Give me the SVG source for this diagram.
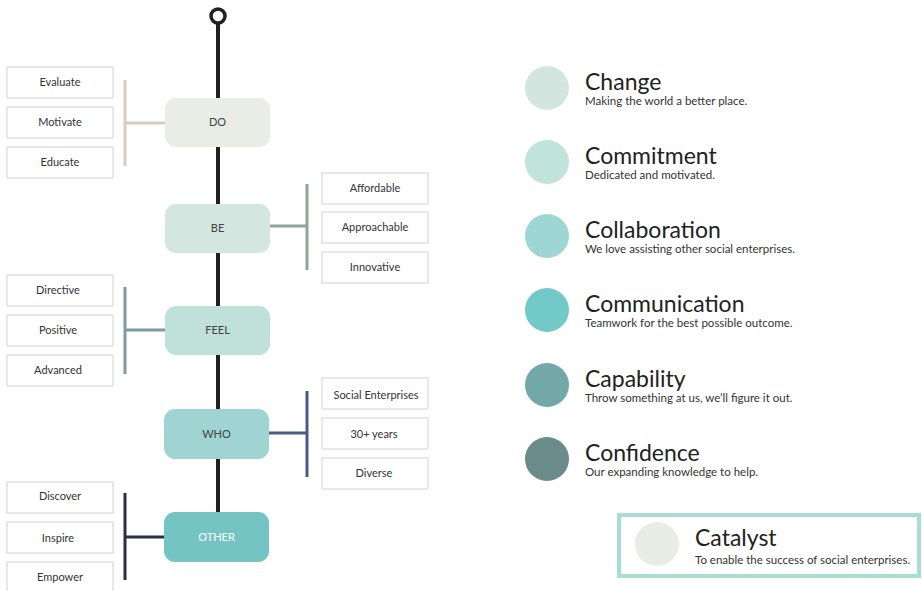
<svg xmlns="http://www.w3.org/2000/svg" width="922" height="591" viewBox="0 0 922 591">
<style>
.box{fill:#fff;stroke:#e2e2e2;stroke-width:1.5}
.bt{font-family:Lato,"Liberation Sans",sans-serif;font-size:11px;fill:#333;text-anchor:middle}
.nt{font-family:Lato,"Liberation Sans",sans-serif;font-size:11px;fill:#444;text-anchor:middle}
.t1{font-family:Lato,"Liberation Sans",sans-serif;font-size:23px;fill:#222}
.t2{font-family:Lato,"Liberation Sans",sans-serif;font-size:11.5px;fill:#333}
.br{fill:none;stroke-width:3}
</style>
<rect width="922" height="591" fill="#fff"/>
<g id="connectors">
<line x1="218" y1="23" x2="218" y2="515" stroke="#231f20" stroke-width="4"/>
<circle cx="218" cy="16" r="7" fill="#fff" stroke="#231f20" stroke-width="3.5"/>
<path class="br" stroke="#d8cbbd" d="M125 80V166M125 123H165"/>
<path class="br" stroke="#8fa49a" d="M307 184V270M307 226H270"/>
<path class="br" stroke="#7e9aa6" d="M125 287V374M125 330H165"/>
<path class="br" stroke="#4a5a85" d="M307 391V477M307 433H269"/>
<path class="br" stroke="#2b2d45" d="M125 493V580M125 537H164"/>
</g>
<g id="n-do"><rect x="165" y="98" width="105" height="49" rx="11" fill="#e9ede5"/><text class="nt" x="217.5" y="126">DO</text></g>
<g id="n-be"><rect x="165" y="204" width="105" height="49" rx="11" fill="#d3e6df"/><text class="nt" x="217.5" y="232">BE</text></g>
<g id="n-feel"><rect x="165" y="306" width="105" height="49" rx="11" fill="#c0e0da"/><text class="nt" x="217.5" y="334">FEEL</text></g>
<g id="n-who"><rect x="164" y="409" width="105" height="50" rx="11" fill="#9fd4d2"/><text class="nt" x="216.5" y="438">WHO</text></g>
<g id="n-other"><rect x="164" y="512" width="105" height="50" rx="11" fill="#73c4c2"/><text class="nt" x="216.5" y="541" style="fill:#fff">OTHER</text></g>
<g id="l-evaluate"><rect class="box" x="7" y="67" width="106" height="31"/><text class="bt" x="60" y="86">Evaluate</text></g>
<g id="l-motivate"><rect class="box" x="7" y="107" width="106" height="31"/><text class="bt" x="60" y="126">Motivate</text></g>
<g id="l-educate"><rect class="box" x="7" y="147" width="106" height="31"/><text class="bt" x="60" y="166">Educate</text></g>
<g id="r-affordable"><rect class="box" x="322" y="173" width="106" height="31"/><text class="bt" x="375" y="192">Affordable</text></g>
<g id="r-approachable"><rect class="box" x="322" y="212" width="106" height="31"/><text class="bt" x="375" y="231">Approachable</text></g>
<g id="r-innovative"><rect class="box" x="322" y="252" width="106" height="31"/><text class="bt" x="375" y="271">Innovative</text></g>
<g id="l-directive"><rect class="box" x="7" y="275" width="106" height="31"/><text class="bt" x="58" y="294">Directive</text></g>
<g id="l-positive"><rect class="box" x="7" y="315" width="106" height="31"/><text class="bt" x="58" y="334">Positive</text></g>
<g id="l-advanced"><rect class="box" x="7" y="355" width="106" height="31"/><text class="bt" x="58" y="374">Advanced</text></g>
<g id="r-social"><rect class="box" x="322" y="378" width="106" height="31"/><text class="bt" x="376" y="399">Social Enterprises</text></g>
<g id="r-30"><rect class="box" x="322" y="418" width="106" height="31"/><text class="bt" x="374" y="438">30+ years</text></g>
<g id="r-diverse"><rect class="box" x="322" y="458" width="106" height="31"/><text class="bt" x="374" y="477">Diverse</text></g>
<g id="l-discover"><rect class="box" x="7" y="482" width="106" height="31"/><text class="bt" x="60" y="500">Discover</text></g>
<g id="l-inspire"><rect class="box" x="7" y="522" width="106" height="31"/><text class="bt" x="58" y="542">Inspire</text></g>
<g id="l-empower"><rect class="box" x="7" y="562" width="106" height="31"/><text class="bt" x="60" y="581">Empower</text></g>
<g id="v-change"><circle cx="547" cy="88" r="22" fill="#d4e5e0"/><text class="t1" x="585" y="90">Change</text><text class="t2" x="585" y="105">Making the world a better place.</text></g>
<g id="v-commitment"><circle cx="547" cy="162" r="22" fill="#c0e3dc"/><text class="t1" x="585" y="164">Commitment</text><text class="t2" x="585" y="179">Dedicated and motivated.</text></g>
<g id="v-collaboration"><circle cx="547" cy="236" r="22" fill="#9dd6d3"/><text class="t1" x="585" y="238">Collaboration</text><text class="t2" x="585" y="253">We love assisting other social enterprises.</text></g>
<g id="v-communication"><circle cx="547" cy="310" r="22" fill="#73c9c8"/><text class="t1" x="585" y="312">Communication</text><text class="t2" x="585" y="327">Teamwork for the best possible outcome.</text></g>
<g id="v-capability"><circle cx="547" cy="385" r="22" fill="#72a9a8"/><text class="t1" x="585" y="387">Capability</text><text class="t2" x="585" y="402">Throw something at us, we’ll figure it out.</text></g>
<g id="v-confidence"><circle cx="547" cy="459" r="22" fill="#6b8b8a"/><text class="t1" x="585" y="461">Confidence</text><text class="t2" x="585" y="476">Our expanding knowledge to help.</text></g>
<g id="catalyst"><rect x="619" y="515" width="300" height="61" fill="#fff" stroke="#a8ddd4" stroke-width="4"/><circle cx="657" cy="544" r="22" fill="#e9ebe5"/><text class="t1" x="695" y="546">Catalyst</text><text class="t2" x="695" y="564">To enable the success of social enterprises.</text></g>
</svg>
